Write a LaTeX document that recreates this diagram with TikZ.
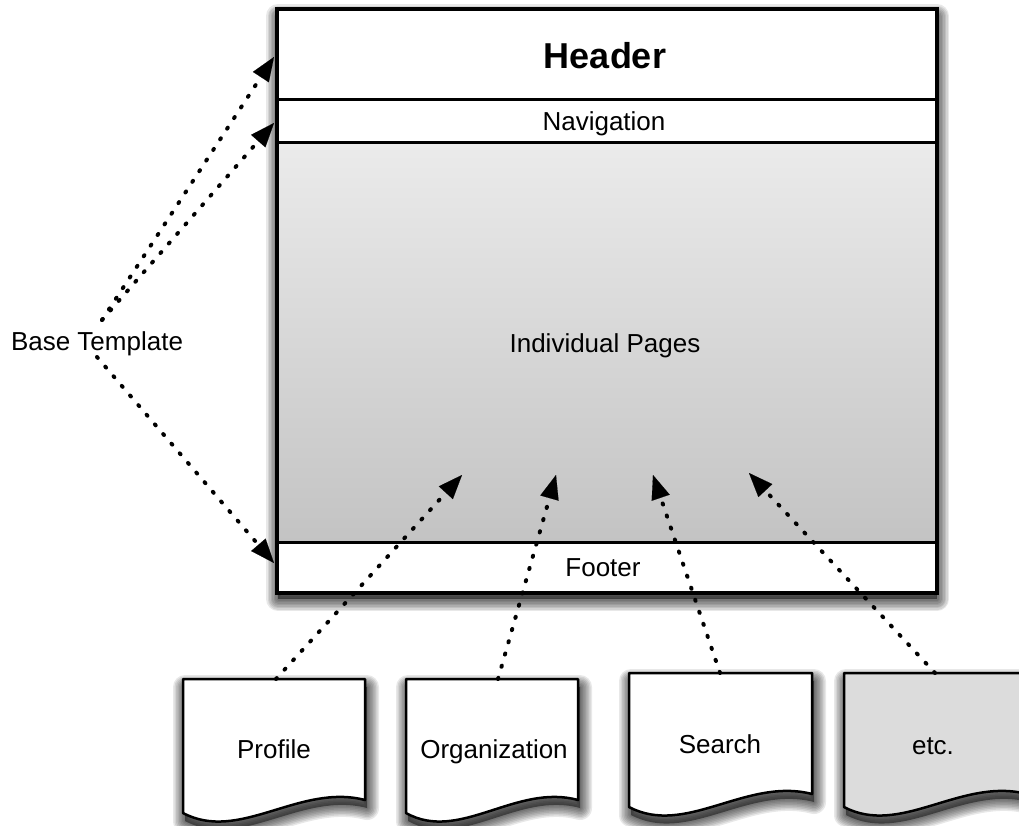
\documentclass[tikz,border=0pt]{standalone}
\usepackage{fontspec}
\setmainfont{Liberation Sans}
\usetikzlibrary{arrows.meta}
\definecolor{topg}{HTML}{EBEBEB}
\definecolor{botg}{HTML}{C3C3C3}
\definecolor{etcg}{HTML}{DCDCDC}
\tikzset{
  part/.style={draw=black, line width=2.5pt, inner sep=0pt, anchor=north west, minimum width=659pt},
  lbl/.style={font=\fontsize{26}{30}\selectfont, inner sep=0pt, anchor=base},
  hdr/.style={font=\bfseries\fontsize{36}{42}\selectfont, inner sep=0pt, anchor=base},
  dotarrow/.style={line width=4pt, line cap=round, dash pattern=on 1.2pt off 11.5pt,
    -{Triangle[length=24pt,width=19pt,line width=0.1pt,fill=black]}},
  shadlayer/.style={black, opacity=0.09, line join=round},
  docshape/.style={draw=black, line width=2.5pt, line join=round},
}
\newcommand\softshadow[1]{%
  \begin{scope}[shift={(2,8)}]
    \foreach \r in {3,6,...,24}{\draw[shadlayer, line width=\r pt] #1;}
    \fill[black, opacity=0.45] #1;
  \end{scope}}
\newcommand\docpath[4]{%
  \softshadow{(#1,#2) -- (#3,#2) -- (#3,#2+121)
    .. controls ({#3-0.36*(#3-#1)},#2+104) and ({#1+0.31*(#3-#1)},#2+164) .. (#1,#2+134) -- cycle}
  \path[docshape, fill=#4] (#1,#2) -- (#3,#2) -- (#3,#2+121)
    .. controls ({#3-0.36*(#3-#1)},#2+104) and ({#1+0.31*(#3-#1)},#2+164) .. (#1,#2+134) -- cycle;}
\begin{document}
\begin{tikzpicture}[x=1pt,y=-1pt]
\useasboundingbox (0,0) rectangle (1019,825);
\begin{scope}
\clip (0,0) rectangle (1019,825);
\fill[white] (0,0) rectangle (1019,825);

% main template box
\softshadow{(276,8) rectangle (935,591)}
\node[part, fill=white, minimum height=90pt] (header) at (276,8) {};
\node[part, fill=white, minimum height=43pt] (nav) at (276,98) {};
\node[part, top color=topg, bottom color=botg, minimum height=400pt] (content) at (276,141) {};
\node[part, fill=white, minimum height=50pt] (footer) at (276,541) {};
\draw[line width=3pt] (header.north west) rectangle (footer.south east);

\node[hdr] (htxt) at (605,68) {Header};
\node[lbl] (navtxt) at (604,130) {Navigation};
\node[lbl] (ctxt) at (605,352) {Individual Pages};
\node[lbl] (ftxt) at (603,576) {Footer};

% base template
\node[lbl] (base) at (97,350) {Base Template};
\coordinate (bs1) at (102,320);
\coordinate (bs2) at (97,357);
\coordinate (hin) at (274,57);
\coordinate (nin) at (274,123);
\coordinate (fin) at (274,563);
\draw[dotarrow] (bs1) -- (hin);
\draw[dotarrow] (bs1) -- (nin);
\draw[dotarrow] (bs2) -- (fin);

% documents
\docpath{183}{679}{365}{white}
\docpath{406}{679}{578}{white}
\docpath{629}{673}{812}{white}
\docpath{844}{673}{1027}{etcg}
\node[lbl] (profile) at (274,758) {Profile};
\node[lbl] (org) at (494,758) {Organization};
\node[lbl] (search) at (720,753) {Search};
\node[lbl] (etc) at (933,754) {etc.};

\coordinate (ptop) at (276,679);
\coordinate (otop) at (498,679);
\coordinate (stop) at (720,673);
\coordinate (etop) at (935,673);
\coordinate (ptip) at (462,475);
\coordinate (otip) at (556,475);
\coordinate (stip) at (653,475);
\coordinate (etip) at (749,473);
\draw[dotarrow] (ptop) -- (ptip);
\draw[dotarrow] (otop) -- (otip);
\draw[dotarrow] (stop) -- (stip);
\draw[dotarrow] (etop) -- (etip);
\end{scope}
\end{tikzpicture}
\end{document}
